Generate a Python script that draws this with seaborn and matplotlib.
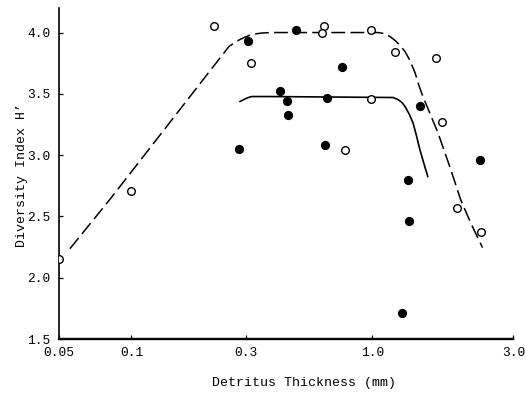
import numpy as np
import pandas as pd
import matplotlib
matplotlib.use("Agg")
import matplotlib.pyplot as plt
import seaborn as sns

# Open-circle stations
open_x = [0.05, 0.10, 0.22, 0.313, 0.633, 0.616, 0.99, 1.19, 1.64, 0.99, 1.72, 0.774, 1.93, 2.34]
open_h = [2.15, 2.71, 4.05, 3.75, 4.05, 4.00, 4.02, 3.84, 3.79, 3.46, 3.27, 3.045, 2.57, 2.37]

# Filled-circle stations
filled_x = [0.305, 0.280, 0.481, 0.752, 0.413, 0.441, 0.446, 0.646, 0.639, 1.45, 2.32, 1.32, 1.33, 1.26]
filled_h = [3.935, 3.05, 4.02, 3.72, 3.52, 3.445, 3.33, 3.47, 3.08, 3.40, 2.96, 2.80, 2.465, 1.71]

# Hand-fitted trend for the open circles (dashed)
dash_x = [0.0555, 0.0812, 0.254, 0.2666, 0.2796, 0.2933, 0.3076, 0.3256, 0.3478, 0.379,
          1.048, 1.097, 1.149, 1.195, 1.242, 1.291, 1.342, 1.395, 1.439, 1.484,
          1.667, 1.843, 1.99, 2.15, 2.36]
dash_h = [2.237, 2.637, 3.886, 3.914, 3.939, 3.959, 3.976, 3.988, 3.996, 4.00,
          4.00, 3.992, 3.967, 3.935, 3.894, 3.845, 3.771, 3.673, 3.567, 3.478,
          3.184, 2.882, 2.637, 2.449, 2.245]

# Hand-fitted trend for the filled circles (solid)
solid_x = [0.282, 0.289, 0.296, 0.306, 0.316, 0.372, 1.176, 1.223, 1.261, 1.291, 1.331,
           1.373, 1.405, 1.449, 1.506, 1.542]
solid_h = [3.437, 3.447, 3.458, 3.470, 3.478, 3.478, 3.47, 3.453, 3.429, 3.396, 3.339,
           3.265, 3.176, 3.045, 2.906, 2.824]

x_ticks = [0.05, 0.1, 0.3, 1.0, 3.0]
x_tick_labels = ["0.05", "0.1", "0.3", "1.0", "3.0"]
y_ticks = [1.5, 2.0, 2.5, 3.0, 3.5, 4.0]
y_tick_labels = ["1.5", "2.0", "2.5", "3.0", "3.5", "4.0"]

open_df = pd.DataFrame({"thickness": open_x, "H": open_h})
filled_df = pd.DataFrame({"thickness": filled_x, "H": filled_h})
dash_df = pd.DataFrame({"thickness": dash_x, "H": dash_h})
solid_df = pd.DataFrame({"thickness": solid_x, "H": solid_h})

sns.set_style("white")
font = "Liberation Mono"
plt.rcParams["font.family"] = [font, "DejaVu Sans Mono"]

fig = plt.figure(figsize=(5.26, 3.97), dpi=100)
ax = fig.add_axes([0.1122, 0.146, 0.976 - 0.1122, 0.9798 - 0.146])

sns.lineplot(data=dash_df, x="thickness", y="H", ax=ax, color="black",
             lw=1.1, linestyle=(0, (9, 3.5)), zorder=1)
sns.lineplot(data=solid_df, x="thickness", y="H", ax=ax, color="black",
             lw=1.2, zorder=1)
sns.scatterplot(data=open_df, x="thickness", y="H", ax=ax, marker="o",
                s=30, color="white", edgecolor="black", linewidth=1.0, zorder=3)
sns.scatterplot(data=filled_df, x="thickness", y="H", ax=ax, marker="o",
                s=34, color="black", edgecolor="black", linewidth=0.8, zorder=3)

# Logarithmic thickness axis; the decade above 1 mm is drawn somewhat wider
STRETCH = 1.229

def fwd(x):
    lx = np.log10(np.clip(np.asarray(x, dtype=float), 1e-6, None))
    return np.where(lx <= 0, lx, lx * STRETCH)

def inv(v):
    v = np.asarray(v, dtype=float)
    return np.where(v <= 0, 10.0 ** v, 10.0 ** (v / STRETCH))

ax.set_xscale("function", functions=(fwd, inv))
ax.set_xlim(0.05, 3.0)
ax.set_ylim(1.5, 4.2)

ax.set_xticks(x_ticks)
ax.set_xticklabels(x_tick_labels)
ax.xaxis.set_minor_locator(matplotlib.ticker.NullLocator())
ax.set_yticks(y_ticks)
ax.set_yticklabels(y_tick_labels)

ax.tick_params(axis="both", direction="in", length=3, width=0.9,
               labelsize=9.3, colors="black", pad=6)
ax.tick_params(axis="both", bottom=True, left=True)

sns.despine(ax=ax)
ax.spines["left"].set_linewidth(1.2)
ax.spines["bottom"].set_linewidth(1.7)
for s in ("left", "bottom"):
    ax.spines[s].set_color("black")

ax.set_xlabel("Detritus Thickness (mm)", fontsize=9.5, color="black")
ax.set_ylabel("Diversity Index H\u2019", fontsize=9.5, color="black")
ax.xaxis.set_label_coords(0.54, -0.115)
ax.yaxis.set_label_coords(-0.068, 0.495)

fig.savefig("out.png", dpi=100)
